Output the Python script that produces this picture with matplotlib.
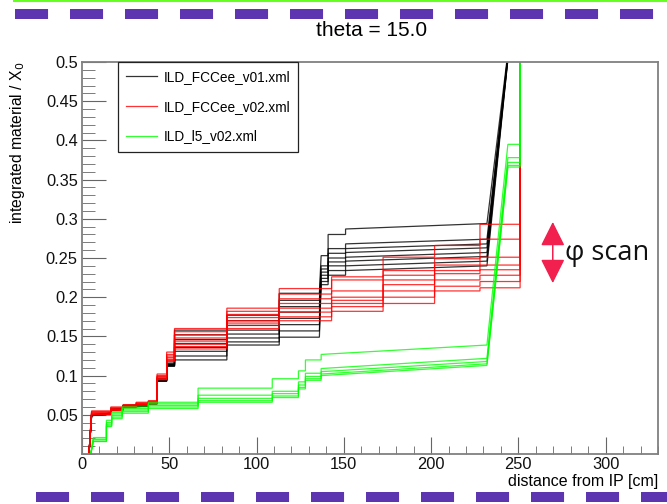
import matplotlib
matplotlib.use("Agg")
import matplotlib.pyplot as plt
from matplotlib.lines import Line2D
from matplotlib.ticker import MultipleLocator

plt.rcParams['font.family'] = ['Liberation Sans', 'DejaVu Sans']
plt.rcParams['lines.scale_dashes'] = False

# material budget scans: distance [cm] vs integrated X/X0, one list per phi
x_v01 = [4, 5.5, 16.5, 16.5, 23.5, 23.5, 38, 38, 43, 43, 48.5, 48.5, 53, 53,
         83, 83, 113, 113, 136, 137, 141, 141, 151, 151, 232, 244]
v01_scan = [
    [0, .050, .052, .057, .058, .062, .063, .066, .066, .096, .096, .116, .116, .158, .158, .177, .177, .205, .205, .253, .253, .280, .280, .287, .294, .512],
    [0, .049, .051, .056, .057, .061, .062, .065, .065, .095, .095, .115, .115, .152, .152, .170, .170, .196, .196, .240, .240, .262, .262, .268, .274, .508],
    [0, .050, .052, .056, .057, .061, .062, .065, .065, .094, .094, .114, .114, .146, .146, .164, .164, .188, .188, .236, .236, .256, .256, .262, .268, .505],
    [0, .049, .051, .056, .057, .060, .061, .064, .064, .093, .093, .113, .113, .141, .141, .158, .158, .181, .181, .232, .232, .250, .250, .257, .263, .510],
    [0, .050, .052, .057, .058, .061, .062, .065, .065, .094, .094, .112, .112, .136, .136, .153, .153, .173, .173, .228, .228, .245, .245, .251, .257, .506],
    [0, .049, .051, .056, .057, .060, .061, .064, .064, .093, .093, .112, .112, .131, .131, .148, .148, .165, .165, .224, .224, .240, .240, .246, .252, .503],
    [0, .050, .052, .057, .058, .061, .062, .065, .065, .095, .095, .114, .114, .125, .125, .143, .143, .157, .157, .220, .220, .234, .234, .240, .246, .508],
    [0, .049, .051, .056, .057, .060, .061, .064, .064, .093, .093, .113, .113, .120, .120, .139, .139, .149, .149, .216, .216, .228, .228, .234, .240, .504],
]

x_v02 = [4, 5.5, 16.5, 16.5, 23.5, 23.5, 31, 31, 38, 38, 43, 43, 48.5, 48.5, 53, 53,
         83, 83, 113, 113, 143, 143, 172.5, 172.5, 202, 202, 228, 228, 251, 251]
v02_scan = [
    [0, .055, .055, .060, .060, .063, .063, .066, .066, .068, .068, .102, .102, .130, .130, .160, .160, .186, .186, .211, .211, .226, .226, .251, .251, .266, .266, .293, .293, .6],
    [0, .054, .054, .059, .059, .062, .062, .065, .065, .067, .067, .100, .100, .127, .127, .156, .156, .182, .182, .204, .204, .222, .222, .234, .234, .249, .249, .274, .274, .6],
    [0, .053, .053, .058, .058, .062, .062, .064, .064, .067, .067, .099, .099, .125, .125, .152, .152, .178, .178, .198, .198, .208, .208, .228, .228, .241, .241, .251, .251, .6],
    [0, .052, .052, .057, .057, .061, .061, .064, .064, .066, .066, .098, .098, .123, .123, .148, .148, .174, .174, .192, .192, .200, .200, .222, .222, .234, .234, .241, .241, .6],
    [0, .051, .051, .057, .057, .061, .061, .063, .063, .066, .066, .097, .097, .121, .121, .144, .144, .170, .170, .186, .186, .196, .196, .216, .216, .230, .230, .235, .235, .6],
    [0, .051, .051, .056, .056, .060, .060, .063, .063, .065, .065, .096, .096, .120, .120, .140, .140, .167, .167, .181, .181, .192, .192, .208, .208, .222, .222, .228, .228, .6],
    [0, .050, .050, .056, .056, .060, .060, .062, .062, .065, .065, .095, .095, .119, .119, .137, .137, .164, .164, .175, .175, .188, .188, .200, .200, .214, .214, .220, .220, .6],
    [0, .050, .050, .055, .055, .059, .059, .062, .062, .064, .064, .095, .095, .118, .118, .134, .134, .160, .160, .170, .170, .182, .182, .192, .192, .208, .208, .212, .212, .6],
]

x_l5 = [5, 6.5, 14, 14, 17, 17, 23, 23, 38, 38, 66.5, 66.5, 109, 109, 124, 124,
        128, 128, 137, 137, 232, 244, 251, 251]
l5_scan = [
    [0, .021, .021, .043, .043, .053, .053, .060, .060, .066, .066, .084, .084, .096, .096, .106, .106, .120, .120, .127, .139, .395, .395, .6],
    [0, .019, .019, .040, .040, .051, .051, .058, .058, .064, .064, .075, .075, .080, .080, .092, .092, .103, .103, .109, .122, .378, .378, .6],
    [0, .018, .018, .038, .038, .049, .049, .056, .056, .062, .062, .071, .071, .077, .077, .088, .088, .099, .099, .105, .118, .372, .372, .6],
    [0, .016, .016, .036, .036, .047, .047, .054, .054, .060, .060, .068, .068, .074, .074, .085, .085, .096, .096, .102, .115, .368, .368, .6],
    [0, .016, .016, .035, .035, .045, .045, .052, .052, .058, .058, .066, .066, .072, .072, .083, .083, .094, .094, .100, .113, .366, .366, .6],
]

geometries = ['ILD_FCCee_v01.xml', 'ILD_FCCee_v02.xml', 'ILD_l5_v02.xml']
colors = ['#000000', '#ff0000', '#00ff00']
y_ticks = [0.05, 0.1, 0.15, 0.2, 0.25, 0.3, 0.35, 0.4, 0.45, 0.5]
y_tick_labels = ['0.05', '0.1', '0.15', '0.2', '0.25', '0.3', '0.35', '0.4', '0.45', '0.5']

fig = plt.figure(figsize=(6.67, 5.04), dpi=100)
ax = fig.add_axes([82 / 667, 1 - 454 / 504, 576 / 667, 392 / 504])

for (xs, scans), name, col in zip([(x_v01, v01_scan), (x_v02, v02_scan), (x_l5, l5_scan)],
                                  geometries, colors):
    for i, ys in enumerate(scans):
        ax.plot(xs, ys, color=col, lw=0.9, alpha=0.8,
                label=name if i == 0 else None, solid_joinstyle='miter')

ax.set_xlim(0, 330)
ax.set_ylim(0, 0.5)
ax.xaxis.set_major_locator(MultipleLocator(50))
ax.xaxis.set_minor_locator(MultipleLocator(10))
ax.set_yticks(y_ticks, y_tick_labels)
ax.yaxis.set_minor_locator(MultipleLocator(0.01))
ax.tick_params(which='both', direction='in', top=False, right=False,
               color='#666666', labelsize=11.8, labelcolor='#111111')
ax.tick_params(axis='x', which='major', length=12, pad=2.5)
ax.tick_params(axis='x', which='minor', length=6)
ax.tick_params(axis='y', which='major', length=17, pad=3)
ax.tick_params(axis='y', which='minor', length=9)
for sp in ax.spines.values():
    sp.set_color('#808080')
    sp.set_linewidth(1.3)

ax.set_xlabel('distance from IP [cm]', fontsize=11.5, loc='right')
ax.xaxis.set_label_coords(1.0, -0.05)
ax.set_ylabel('integrated material / X$_0$', fontsize=11.3, loc='top')
ax.yaxis.set_label_coords(-0.095, 1.0)

leg = ax.legend(loc='upper left', bbox_to_anchor=((118 - 82) / 576, 1.0),
                fontsize=9.8, frameon=True, fancybox=False, framealpha=1,
                edgecolor='#222222', borderpad=0.6, labelspacing=1.15,
                handlelength=2.3, handletextpad=0.45, borderaxespad=0)
leg.get_frame().set_linewidth(0.9)

fig.text(372 / 667, 1 - 30 / 504, 'theta = 15.0', ha='center', va='center', fontsize=15)

# phi scan marker
ax.annotate('', xy=(0.8173, 0.592), xytext=(0.8173, 0.436), xycoords='axes fraction',
            arrowprops=dict(arrowstyle='<|-|>,head_length=1.0,head_width=0.5',
                            mutation_scale=15, color='#f2204e', lw=1.1,
                            shrinkA=0, shrinkB=0))
ax.text(0.838, 0.512, '\u03c6 scan', transform=ax.transAxes, ha='left', va='center',
        fontsize=19.5, family=['Open Sans', 'DejaVu Sans'], color='#111111')

# slide decoration
fig.add_artist(Line2D([14 / 667, 1], [1 - 1 / 504] * 2, color='#66ff22', lw=1.5))
fig.add_artist(Line2D([15 / 667, 1], [1 - 14 / 504] * 2, color='#5e35b1', lw=7.2,
                      dashes=(23.8, 15.8), dash_capstyle='butt'))
fig.add_artist(Line2D([36 / 667, 1], [1 - 497 / 504] * 2, color='#5e35b1', lw=7.2,
                      dashes=(23.8, 15.8), dash_capstyle='butt'))

fig.savefig('out.png', dpi=100)
